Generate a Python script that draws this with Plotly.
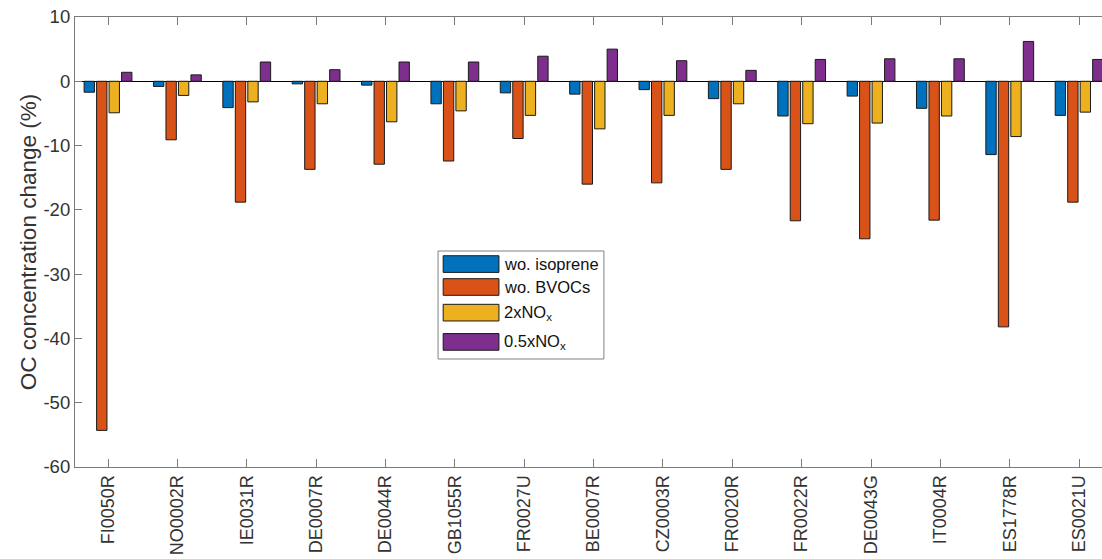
import plotly.graph_objects as go

stations = ["FI0050R", "NO0002R", "IE0031R", "DE0007R", "DE0044R", "GB1055R",
            "FR0027U", "BE0007R", "CZ0003R", "FR0020R", "FR0022R", "DE0043G",
            "IT0004R", "ES1778R", "ES0021U"]

wo_isoprene = [-1.7, -0.8, -4.1, -0.4, -0.6, -3.5, -1.8, -2.0, -1.3, -2.7, -5.4, -2.3, -4.2, -11.4, -5.3]
wo_bvocs = [-54.3, -9.1, -18.8, -13.7, -12.9, -12.4, -8.9, -16.0, -15.8, -13.7, -21.7, -24.5, -21.6, -38.2, -18.8]
two_nox = [-4.9, -2.2, -3.2, -3.5, -6.3, -4.6, -5.3, -7.4, -5.3, -3.5, -6.6, -6.5, -5.4, -8.6, -4.8]
half_nox = [1.4, 1.0, 3.0, 1.8, 3.0, 3.0, 3.9, 5.0, 3.2, 1.7, 3.4, 3.5, 3.5, 6.2, 3.4]

series_names = ["wo. isoprene", "wo. BVOCs", "2xNO<sub>x</sub>", "0.5xNO<sub>x</sub>"]
series_values = [wo_isoprene, wo_bvocs, two_nox, half_nox]
series_colors = ["#0072BD", "#D95319", "#EDB120", "#7E2F8E"]

y_ticks = [-60, -50, -40, -30, -20, -10, 0, 10]

FONT = "Liberation Sans, Arial, sans-serif"
AXIS_GRAY = "#7a7a7a"
TEXT_COLOR = "#333333"

fig = go.Figure()
for name, vals, col in zip(series_names, series_values, series_colors):
    fig.add_trace(go.Bar(
        x=stations, y=vals, name=name,
        marker=dict(color=col, line=dict(color="#1a1a1a", width=1)),
        showlegend=False,
    ))

# manual MATLAB-style legend (paper coordinates)
lx0, lx1, ly0, ly1 = 0.3535, 0.515, 0.24, 0.48
shapes = [dict(type="rect", xref="paper", yref="paper", x0=lx0, x1=lx1, y0=ly0, y1=ly1,
               line=dict(color="#808080", width=1), fillcolor="white", layer="above")]
annotations = []
row_y = [0.451, 0.400, 0.343, 0.278]
sw_h = 0.037
for name, col, ry in zip(series_names, series_colors, row_y):
    shapes.append(dict(type="rect", xref="paper", yref="paper",
                       x0=0.3585, x1=0.4128, y0=ry - sw_h / 2, y1=ry + sw_h / 2,
                       line=dict(color="#1a1a1a", width=1), fillcolor=col, layer="above"))
    annotations.append(dict(xref="paper", yref="paper", x=0.4155, y=ry,
                            xanchor="left", yanchor="middle", showarrow=False,
                            text=name, font=dict(family=FONT, size=16.5, color="#111111")))

fig.update_layout(
    width=1102, height=559,
    margin=dict(l=75, r=0, t=17, b=92, autoexpand=False),
    paper_bgcolor="white", plot_bgcolor="white",
    barmode="group", bargap=0.28, bargroupgap=0.17,
    font=dict(family=FONT, size=18, color=TEXT_COLOR),
    shapes=shapes, annotations=annotations,
    showlegend=False,
)
fig.update_xaxes(
    type="category", range=[-0.476, 14.33],
    showline=True, linecolor=AXIS_GRAY, linewidth=1.2, mirror="ticks",
    ticks="inside", ticklen=8, tickcolor=AXIS_GRAY, tickwidth=1.2,
    tickangle=-90, tickfont=dict(size=18, color=TEXT_COLOR),
    showgrid=False, automargin=False,
)
fig.update_yaxes(
    range=[-60, 10], tickvals=y_ticks, ticktext=[str(v) for v in y_ticks],
    showline=True, linecolor=AXIS_GRAY, linewidth=1.2, mirror=False,
    ticks="inside", ticklen=7, tickcolor=AXIS_GRAY, tickwidth=1.2,
    tickfont=dict(size=18.5, color=TEXT_COLOR),
    showgrid=False, zeroline=True, zerolinecolor="#000000", zerolinewidth=1.2,
    title=dict(text="OC concentration change (%)", font=dict(size=22.5, color=TEXT_COLOR), standoff=0),
    automargin=False,
)

fig.write_html("out.html",
               config={"displayModeBar": False},
               post_script="document.body.style.margin='0';document.body.style.overflow='hidden';")
